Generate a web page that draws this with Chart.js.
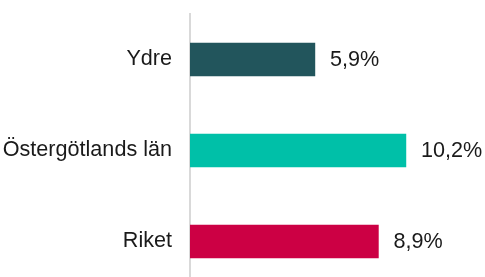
<!DOCTYPE html>
<html>
<head>
<meta charset="utf-8">
<script src="https://cdn.jsdelivr.net/npm/chart.js@4/dist/chart.umd.min.js"></script>
<style>
  html, body { margin: 0; padding: 0; background: #fff; }
  #wrap { width: 485px; height: 277px; overflow: hidden; position: relative; }
  #box { width: 485px; height: 287px; }
</style>
</head>
<body>
<div id="wrap"><div id="box"><canvas id="chart"></canvas></div></div>
<script>
const categories = ['Ydre', 'Östergötlands län', 'Riket'];
const values = [5.9, 10.2, 8.9];
const barColors = ['#22555c', '#00c0a8', '#cc0044'];

const FONT = '"Liberation Sans", Arial, sans-serif';
const FSIZE = 21.6;

// value labels at bar ends, "5,9%" style
const endLabels = {
  id: 'endLabels',
  afterDatasetsDraw(c) {
    const g = c.ctx;
    const meta = c.getDatasetMeta(0);
    g.save();
    g.font = FSIZE + 'px ' + FONT;
    g.fillStyle = '#1a1a1a';
    g.textAlign = 'left';
    g.textBaseline = 'middle';
    meta.data.forEach((bar, i) => {
      const txt = values[i].toFixed(1).replace('.', ',') + '%';
      g.fillText(txt, bar.x + 15, bar.y + 1);
    });
    g.restore();
  }
};

new Chart(document.getElementById('chart').getContext('2d'), {
  type: 'bar',
  data: {
    labels: categories,
    datasets: [{ data: values, backgroundColor: barColors, barThickness: 33 }]
  },
  options: {
    indexAxis: 'y',
    responsive: true, maintainAspectRatio: false,
    animation: false,
    layout: { padding: { top: 14, right: 41, bottom: 0, left: 0 } },
    scales: {
      x: { display: false, min: 0, max: 12 },
      y: {
        afterFit: (s) => { s.width = 190; s.paddingTop = 0; s.paddingBottom = 0; },
        grid: { display: false, drawTicks: false },
        border: { display: true, color: '#d9d9d9', width: 2 },
        ticks: { color: '#1a1a1a', padding: 18, font: { family: FONT, size: FSIZE } }
      }
    },
    plugins: { legend: { display: false }, tooltip: { enabled: false } }
  },
  plugins: [endLabels]
});
</script>
</body>
</html>
